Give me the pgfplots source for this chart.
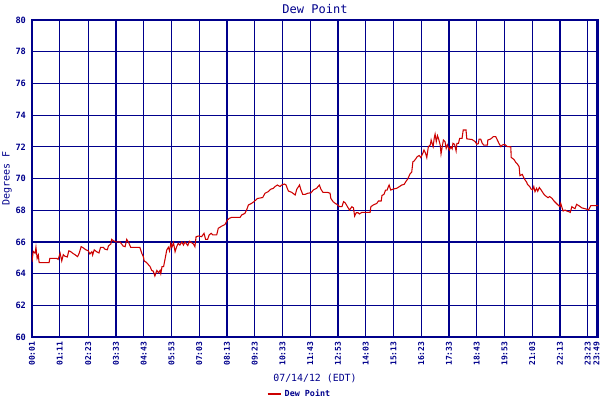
\documentclass[border=0pt]{standalone}
\usepackage{pgfplots}
\pgfplotsset{compat=1.18}
\usepackage{fontspec}
\setmainfont{DejaVu Sans Mono}
\definecolor{navy}{RGB}{0,0,140}
\definecolor{dewred}{RGB}{204,0,0}

\begin{document}
\begin{tikzpicture}
\useasboundingbox (-24pt,-47.25pt) rectangle (426pt,252.75pt);
\begin{axis}[
    at={(0,0)}, anchor=origin,
    scale only axis,
    width=424.5pt, height=237.75pt,
    xmin=1, xmax=1429,
    ymin=60, ymax=80,
    ytick={60,62,...,80},
    xtick={1,71,143,213,283,353,423,493,563,633,703,773,843,913,983,1053,1123,1193,1263,1333,1403,1425},
    xticklabels={00:01,01:11,02:23,03:33,04:43,05:53,07:03,08:13,09:23,10:33,11:43,12:53,14:03,15:13,16:23,17:33,18:43,19:53,21:03,22:13,23:23,23:49},
    x tick label style={rotate=90, anchor=east, font=\fontsize{6}{7}\selectfont\bfseries},
    y tick label style={font=\fontsize{6.5}{7}\selectfont\bfseries, xshift=-1pt},
    /pgf/number format/assume math mode=true,
    major tick length=0pt,
    ticklabel style={text=navy},
    grid=major,
    major grid style={navy, line width=0.9pt},
    axis line style={navy, line width=1.5pt},
    title={Dew Point},
    title style={text=navy, font=\fontsize{9}{10}\selectfont, at={(0.5,1)}, anchor=base, yshift=-1pt},
    xlabel={07/14/12 (EDT)},
    xlabel style={text=navy, font=\fontsize{7.4}{9}\selectfont, yshift=1pt},
    ylabel={Degrees F},
    ylabel style={text=navy, font=\fontsize{7.5}{9}\selectfont, yshift=-4pt},
    legend style={at={(0.473,-0.18)}, anchor=center, draw=none, fill=none,
        font=\fontsize{6.3}{7}\selectfont\bfseries, text=navy},
    legend image code/.code={\draw[#1, line width=1.6pt] (0pt,0pt) -- (10pt,0pt);},
    legend cell align=left,
]
\addplot[dewred, line width=0.8pt] table {
x y
1 64.75
4 65.4
9 65.28
11 65.66
14 64.96
17 65.17
19 64.69
44 64.69
46 64.96
63 64.96
67 64.9
72 65.28
76 64.8
80 65.2
84 65.1
90 65.05
94 65.44
99 65.38
104 65.28
109 65.2
116 65.07
120 65.28
125 65.7
130 65.63
137 65.5
143 65.44
147 65.24
152 65.38
154 65.17
158 65.5
164 65.38
170 65.3
174 65.66
181 65.66
185 65.54
191 65.5
194 65.75
200 65.87
202 66.16
206 66.08
213 66.0
223 66.0
231 65.74
236 65.7
240 66.16
245 65.95
250 65.66
273 65.66
278 65.28
282 65.07
284 64.8
290 64.7
299 64.44
303 64.2
307 64.15
311 63.85
316 64.2
320 64.05
324 64.2
326 64.0
329 64.44
333 64.44
337 64.96
341 65.49
345 65.66
348 65.43
351 65.91
354 65.66
358 65.95
362 65.38
366 65.7
370 65.91
374 65.8
379 66.0
383 65.8
387 66.0
394 65.77
398 66.04
404 65.95
408 65.87
412 65.7
415 66.33
421 66.37
429 66.33
435 66.54
439 66.16
444 66.16
448 66.44
453 66.54
457 66.44
467 66.44
471 66.86
480 67.0
488 67.1
494 67.38
499 67.49
505 67.55
526 67.55
530 67.7
538 67.8
543 68.05
547 68.33
555 68.43
561 68.54
570 68.74
583 68.8
589 69.07
597 69.17
603 69.32
610 69.38
614 69.49
620 69.59
627 69.49
631 69.59
638 69.65
642 69.59
645 69.38
648 69.21
656 69.13
665 68.96
669 69.32
676 69.59
679 69.32
684 69.0
690 69.0
697 69.07
705 69.1
711 69.28
719 69.38
726 69.59
730 69.32
735 69.13
746 69.13
753 69.07
755 68.74
761 68.53
766 68.43
771 68.36
777 68.22
783 68.22
787 68.54
791 68.47
797 68.22
802 68.01
808 68.22
812 68.15
815 67.63
819 67.84
824 67.84
827 67.76
833 67.86
854 67.86
856 68.22
862 68.33
871 68.43
875 68.58
882 68.58
884 68.93
889 69.0
893 69.27
897 69.27
900 69.48
902 69.59
906 69.27
913 69.34
921 69.38
928 69.49
934 69.59
940 69.63
944 69.8
949 69.97
955 70.3
959 70.4
962 71.06
965 71.1
970 71.27
973 71.38
978 71.45
982 71.32
987 71.59
990 71.8
994 71.59
997 71.32
1001 72.01
1006 72.12
1008 72.43
1013 72.01
1016 72.58
1018 72.8
1021 72.33
1024 72.7
1027 72.49
1031 72.1
1033 71.55
1036 72.01
1039 72.43
1043 72.33
1046 71.9
1049 72.12
1054 71.8
1058 72.0
1061 71.87
1063 72.22
1067 72.16
1071 71.74
1073 72.22
1077 72.22
1080 72.53
1086 72.53
1089 73.06
1096 73.06
1098 72.5
1111 72.46
1119 72.33
1123 72.16
1127 72.2
1129 72.49
1133 72.49
1137 72.22
1141 72.1
1150 72.1
1151 72.43
1158 72.49
1165 72.64
1171 72.64
1175 72.43
1179 72.22
1184 72.01
1188 72.12
1194 72.15
1200 72.01
1209 72.0
1210 71.33
1217 71.2
1222 71.0
1226 70.9
1230 70.75
1232 70.18
1238 70.26
1243 69.98
1249 69.77
1251 69.63
1257 69.48
1260 69.34
1264 69.28
1267 69.49
1270 69.17
1274 69.38
1277 69.2
1281 69.43
1286 69.26
1290 69.1
1294 68.96
1299 68.86
1303 68.79
1307 68.86
1313 68.75
1318 68.58
1324 68.43
1328 68.33
1333 68.22
1335 68.43
1339 68.1
1341 67.95
1346 68.01
1350 67.95
1356 67.9
1359 67.86
1363 68.22
1367 68.15
1371 68.1
1375 68.37
1381 68.28
1388 68.15
1400 68.07
1405 68.01
1411 68.29
1429 68.29
};
\addlegendentry{Dew Point}
\end{axis}
\end{tikzpicture}
\end{document}
